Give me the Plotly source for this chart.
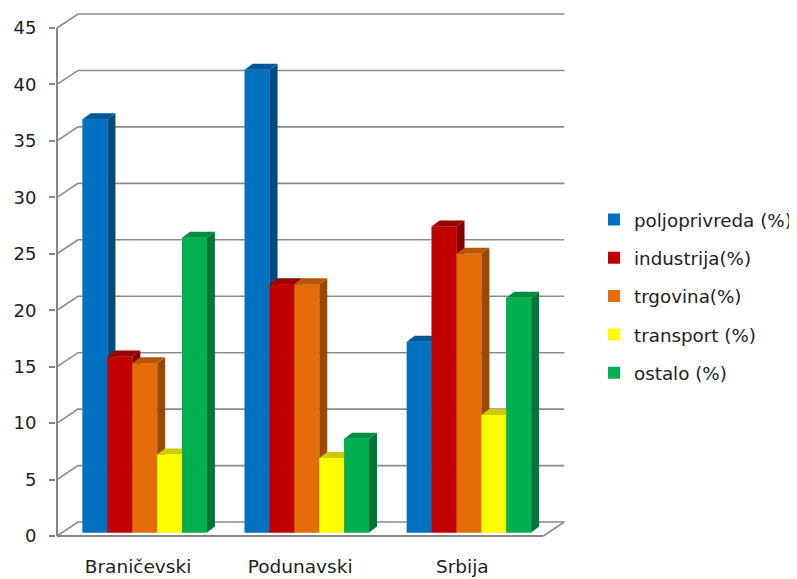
import plotly.graph_objects as go

categories = ["Braničevski", "Podunavski", "Srbija"]
series_names = ["poljoprivreda (%)", "industrija(%)", "trgovina(%)", "transport (%)", "ostalo (%)"]
poljoprivreda = [36.6, 41.0, 16.9]
industrija = [15.6, 22.0, 27.1]
trgovina = [15.0, 22.0, 24.7]
transport = [6.9, 6.6, 10.4]
ostalo = [26.1, 8.3, 20.8]
series_values = [poljoprivreda, industrija, trgovina, transport, ostalo]
y_ticks = [0, 5, 10, 15, 20, 25, 30, 35, 40, 45]

front_colors = ["#0070C0", "#C00000", "#E46C0A", "#FFFF00", "#00B050"]
top_colors = ["#00589A", "#9A0000", "#B55608", "#CCCC00", "#008D40"]
side_colors = ["#004A80", "#800000", "#984807", "#AAAA00", "#00753A"]

PAGE = 8                  # default body margin of the page
W, H = 797 - PAGE, 579 - PAGE
AX_L, AX_R, AX_T, AX_B = 57, 544, 27.5, 536.5   # front plane of the axes, in page pixels
PX = 3 / (AX_R - AX_L)    # category units per pixel
PY = 45 / (AX_B - AX_T)   # value units per pixel
PAD_L, PAD_T, PAD_B = 1, 15, 1
bar_w = 24.9 * PX
shift_x = 6.7 * PX
base = 3.5 * PY
depth_x, depth_y = 8 * PX, 6 * PY
wall_x, wall_y = 21 * PX, 14 * PY
x_start, x_end = -0.5, 2.5

GRID = "#8C8C8C"
AXIS = "#868686"
fig = go.Figure()


def poly(xs, ys, color):
    fig.add_trace(go.Scatter(x=xs, y=ys, mode="lines", fill="toself", fillcolor=color,
                             line=dict(width=0, color=color), showlegend=False,
                             hoverinfo="skip"))


def line(xs, ys, color, width):
    fig.add_trace(go.Scatter(x=xs, y=ys, mode="lines", line=dict(color=color, width=width),
                             showlegend=False, hoverinfo="skip"))


# walls
for v in y_ticks:
    line([x_start, x_start + wall_x, x_end + wall_x], [v, v + wall_y, v + wall_y], GRID, 1.6)
line([x_end, x_end + wall_x], [0, wall_y], GRID, 1.6)
# front axes
line([x_start, x_start], [0, 45], AXIS, 2)
line([x_start, x_end], [0, 0], AXIS, 2)

# legend entries (bars sit below the polygon layer)
for s, name in enumerate(series_names):
    offs = [i + shift_x + (s - 2) * bar_w for i in range(len(categories))]
    fig.add_trace(go.Bar(x=offs, y=series_values[s], base=base, width=bar_w,
                         marker=dict(color=front_colors[s], line=dict(width=0)),
                         name=name, legendgroup=name, hoverinfo="skip"))

# faces, left to right
for i in range(len(categories)):
    for s in range(len(series_names)):
        c = i + shift_x + (s - 2) * bar_w
        x0, x1 = c - bar_w / 2, c + bar_w / 2
        top = series_values[s][i] + base
        poly([x1, x1 + depth_x, x1 + depth_x, x1],
             [base, base + depth_y, top + depth_y, top], side_colors[s])
        poly([x0, x0 + depth_x, x1 + depth_x, x1],
             [top, top + depth_y, top + depth_y, top], top_colors[s])
        poly([x0, x1, x1, x0], [base, base, top, top], front_colors[s])

m_l = AX_L - PAD_L - PAGE
m_t = AX_T - PAD_T - PAGE
m_r = 0
m_b = H - (AX_B + PAD_B - PAGE)
plot_w = W - m_l - m_r
plot_h = H - m_t - m_b
x_stop = x_start - PAD_L * PX + plot_w * PX   # plot area runs to the page edge; the legend sits in it

fig.update_layout(
    width=W, height=H, margin=dict(l=m_l, r=m_r, t=m_t, b=m_b),
    paper_bgcolor="white", plot_bgcolor="white",
    font=dict(family="DejaVu Sans", size=18.5, color="#222222"),
    barmode="overlay", showlegend=True,
    legend=dict(x=(587 - m_l) / plot_w, y=(H - m_b - 193) / plot_h, xanchor="left", yanchor="top",
                tracegroupgap=11.5, font=dict(size=18.3), bgcolor="rgba(0,0,0,0)",
                itemwidth=30, traceorder="grouped", entrywidth=120, entrywidthmode="pixels"),
    xaxis=dict(range=[x_start - PAD_L * PX, x_stop], tickmode="array",
               tickvals=[0, 1, 2], ticktext=categories, showgrid=False, zeroline=False,
               showline=False, ticks="", ticklabelstandoff=16, automargin=False),
    yaxis=dict(range=[-PAD_B * PY, 45 + PAD_T * PY], tickmode="array", tickvals=y_ticks,
               showgrid=False, zeroline=False, showline=False, ticks="outside", ticklen=6,
               tickcolor=AXIS, tickwidth=1.5, ticklabelstandoff=9, tickfont=dict(size=18),
               automargin=False),
)
fig.write_html("out.html")
